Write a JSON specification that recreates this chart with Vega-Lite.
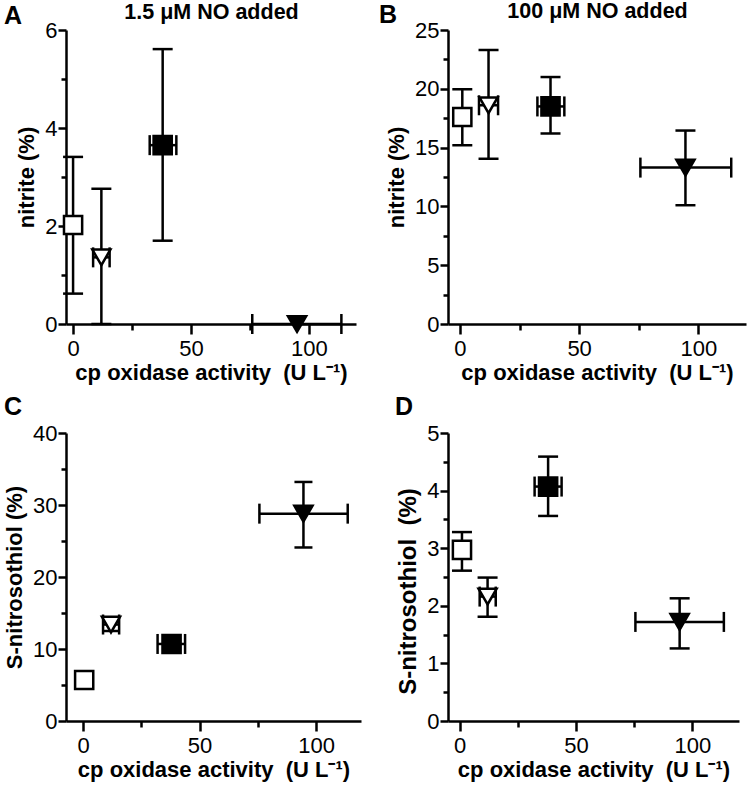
{
  "$schema": "https://vega.github.io/schema/vega-lite/v6.json",
  "background": "white",
  "padding": {"left": 3, "right": 5, "top": 0, "bottom": 4},
  "datasets": {
    "pts": [
      {"panel": "A", "group": "open_sq", "x": 0, "xlo": null, "xhi": null, "y": 2.02, "ylo": 0.62, "yhi": 3.41},
      {"panel": "A", "group": "open_tri", "x": 12, "xlo": 8.5, "xhi": 15.5, "y": 1.36, "ylo": 0, "yhi": 2.76},
      {"panel": "A", "group": "filled_sq", "x": 38, "xlo": 32.5, "xhi": 43.8, "y": 3.65, "ylo": 1.7, "yhi": 5.61},
      {"panel": "A", "group": "filled_tri", "x": 95, "xlo": 76, "xhi": 113.8, "y": 0.0, "ylo": null, "yhi": null},
      {"panel": "B", "group": "open_sq", "x": 1, "xlo": null, "xhi": null, "y": 17.6, "ylo": 15.2, "yhi": 19.96},
      {"panel": "B", "group": "open_tri", "x": 12, "xlo": 8, "xhi": 16, "y": 18.6, "ylo": 14.05, "yhi": 23.3},
      {"panel": "B", "group": "filled_sq", "x": 38, "xlo": 32.5, "xhi": 43.8, "y": 18.5, "ylo": 16.2, "yhi": 21.0},
      {"panel": "B", "group": "filled_tri", "x": 94.6, "xlo": 75.7, "xhi": 113.8, "y": 13.3, "ylo": 10.1, "yhi": 16.45},
      {"panel": "C", "group": "open_sq", "x": 0.5, "xlo": null, "xhi": null, "y": 5.7, "ylo": null, "yhi": null},
      {"panel": "C", "group": "open_tri", "x": 12, "xlo": 8.6, "xhi": 15.5, "y": 13.4, "ylo": 12.5, "yhi": 14.3},
      {"panel": "C", "group": "filled_sq", "x": 38, "xlo": 32, "xhi": 43.8, "y": 10.7, "ylo": null, "yhi": null},
      {"panel": "C", "group": "filled_tri", "x": 94.6, "xlo": 75.7, "xhi": 113.6, "y": 28.8, "ylo": 24.1, "yhi": 33.2},
      {"panel": "D", "group": "open_sq", "x": 1, "xlo": null, "xhi": null, "y": 2.97, "ylo": 2.61, "yhi": 3.28},
      {"panel": "D", "group": "open_tri", "x": 12, "xlo": 8.6, "xhi": 15.5, "y": 2.16, "ylo": 1.81, "yhi": 2.49},
      {"panel": "D", "group": "filled_sq", "x": 38, "xlo": 32.2, "xhi": 43.8, "y": 4.07, "ylo": 3.56, "yhi": 4.59},
      {"panel": "D", "group": "filled_tri", "x": 94.5, "xlo": 75.5, "xhi": 113.5, "y": 1.72, "ylo": 1.26, "yhi": 2.13}
    ]
  },
  "columns": 2,
  "spacing": {"row": 12, "column": 18},
  "concat": [
    {
      "width": 290, "height": 294,
      "data": {"name": "pts"},
      "title": {"text": "A", "dy": 30, "dx": -62},
      "transform": [{"filter": "datum.panel == 'A'"}],
      "resolve": {"axis": {"x": "independent", "y": "independent"}},
      "layer": [
        {"transform": [{"filter": "datum.ylo != null"}], "mark": {"type": "rule", "strokeWidth": 2.5, "color": "black"},
          "encoding": {
            "x": {"field": "x", "type": "quantitative", "scale": {"domain": [-3, 120], "nice": false, "zero": false},
              "axis": {"title": "cp oxidase activity\u00a0\u00a0(U L⁻¹)", "values": [0, 25, 50, 75, 100], "labelExpr": "datum.value % 50 == 0 ? datum.label : ''", "tickSize": {"condition": {"test": "datum.value % 50 != 0", "value": 6}, "value": 10}}},
            "y": {"field": "ylo", "type": "quantitative", "scale": {"domain": [0, 6], "nice": false},
              "axis": {"title": "nitrite (%)", "values": [0, 1, 2, 3, 4, 5, 6], "labelExpr": "datum.value % 2 == 0 ? datum.label : ''", "tickSize": {"condition": {"test": "datum.value % 2 != 0", "value": 5}, "value": 8}}},
            "y2": {"field": "yhi"}}},
        {"transform": [{"filter": "datum.ylo != null"}], "mark": {"type": "tick", "orient": "horizontal", "size": 20, "thickness": 2.5, "color": "black", "opacity": 1},
          "encoding": {"x": {"field": "x", "type": "quantitative", "axis": null}, "y": {"field": "ylo", "type": "quantitative", "axis": null}}},
        {"transform": [{"filter": "datum.ylo != null"}], "mark": {"type": "tick", "orient": "horizontal", "size": 20, "thickness": 2.5, "color": "black", "opacity": 1},
          "encoding": {"x": {"field": "x", "type": "quantitative", "axis": null}, "y": {"field": "yhi", "type": "quantitative", "axis": null}}},
        {"transform": [{"filter": "datum.xlo != null"}], "mark": {"type": "rule", "strokeWidth": 2.5, "color": "black"},
          "encoding": {
            "x": {"field": "xlo", "type": "quantitative",
              "axis": {"orient": "top", "title": "1.5 μM NO added", "labels": false, "ticks": false, "domain": false, "titleFontSize": 21.5, "titlePadding": 7}},
            "x2": {"field": "xhi"},
            "y": {"field": "y", "type": "quantitative", "axis": null}}},
        {"transform": [{"filter": "datum.xlo != null"}], "mark": {"type": "tick", "orient": "vertical", "size": 20, "thickness": 2.5, "color": "black", "opacity": 1},
          "encoding": {"x": {"field": "xlo", "type": "quantitative", "axis": null}, "y": {"field": "y", "type": "quantitative", "axis": null}}},
        {"transform": [{"filter": "datum.xlo != null"}], "mark": {"type": "tick", "orient": "vertical", "size": 20, "thickness": 2.5, "color": "black", "opacity": 1},
          "encoding": {"x": {"field": "xhi", "type": "quantitative", "axis": null}, "y": {"field": "y", "type": "quantitative", "axis": null}}},
        {"mark": {"type": "point", "filled": true, "stroke": "black", "strokeWidth": 2.5, "size": 330, "opacity": 1},
          "encoding": {
            "x": {"field": "x", "type": "quantitative", "axis": null},
            "y": {"field": "y", "type": "quantitative", "axis": null},
            "shape": {"field": "group", "type": "nominal", "scale": {"domain": ["open_sq", "open_tri", "filled_sq", "filled_tri"], "range": ["square", "triangle-down", "square", "triangle-down"]}, "legend": null},
            "fill": {"field": "group", "type": "nominal", "scale": {"domain": ["open_sq", "open_tri", "filled_sq", "filled_tri"], "range": ["white", "white", "black", "black"]}, "legend": null}}}
      ]
    },
    {
      "width": 298, "height": 294,
      "data": {"name": "pts"},
      "title": {"text": "B", "dy": 30, "dx": -69},
      "transform": [{"filter": "datum.panel == 'B'"}],
      "resolve": {"axis": {"x": "independent", "y": "independent"}},
      "layer": [
        {"transform": [{"filter": "datum.ylo != null"}], "mark": {"type": "rule", "strokeWidth": 2.5, "color": "black"},
          "encoding": {
            "x": {"field": "x", "type": "quantitative", "scale": {"domain": [-5, 120], "nice": false, "zero": false},
              "axis": {"title": "cp oxidase activity\u00a0\u00a0(U L⁻¹)", "values": [0, 25, 50, 75, 100], "labelExpr": "datum.value % 50 == 0 ? datum.label : ''", "tickSize": {"condition": {"test": "datum.value % 50 != 0", "value": 6}, "value": 10}}},
            "y": {"field": "ylo", "type": "quantitative", "scale": {"domain": [0, 25], "nice": false},
              "axis": {"title": "nitrite (%)", "values": [0, 2.5, 5, 7.5, 10, 12.5, 15, 17.5, 20, 22.5, 25], "labelExpr": "datum.value % 5 == 0 ? format(datum.value, 'd') : ''", "tickSize": {"condition": {"test": "datum.value % 5 != 0", "value": 5}, "value": 8}}},
            "y2": {"field": "yhi"}}},
        {"transform": [{"filter": "datum.ylo != null"}], "mark": {"type": "tick", "orient": "horizontal", "size": 20, "thickness": 2.5, "color": "black", "opacity": 1},
          "encoding": {"x": {"field": "x", "type": "quantitative", "axis": null}, "y": {"field": "ylo", "type": "quantitative", "axis": null}}},
        {"transform": [{"filter": "datum.ylo != null"}], "mark": {"type": "tick", "orient": "horizontal", "size": 20, "thickness": 2.5, "color": "black", "opacity": 1},
          "encoding": {"x": {"field": "x", "type": "quantitative", "axis": null}, "y": {"field": "yhi", "type": "quantitative", "axis": null}}},
        {"transform": [{"filter": "datum.xlo != null"}], "mark": {"type": "rule", "strokeWidth": 2.5, "color": "black"},
          "encoding": {
            "x": {"field": "xlo", "type": "quantitative",
              "axis": {"orient": "top", "title": "100 μM NO added", "labels": false, "ticks": false, "domain": false, "titleFontSize": 21.5, "titlePadding": 8}},
            "x2": {"field": "xhi"},
            "y": {"field": "y", "type": "quantitative", "axis": null}}},
        {"transform": [{"filter": "datum.xlo != null"}], "mark": {"type": "tick", "orient": "vertical", "size": 20, "thickness": 2.5, "color": "black", "opacity": 1},
          "encoding": {"x": {"field": "xlo", "type": "quantitative", "axis": null}, "y": {"field": "y", "type": "quantitative", "axis": null}}},
        {"transform": [{"filter": "datum.xlo != null"}], "mark": {"type": "tick", "orient": "vertical", "size": 20, "thickness": 2.5, "color": "black", "opacity": 1},
          "encoding": {"x": {"field": "xhi", "type": "quantitative", "axis": null}, "y": {"field": "y", "type": "quantitative", "axis": null}}},
        {"mark": {"type": "point", "filled": true, "stroke": "black", "strokeWidth": 2.5, "size": 330, "opacity": 1},
          "encoding": {
            "x": {"field": "x", "type": "quantitative", "axis": null},
            "y": {"field": "y", "type": "quantitative", "axis": null},
            "shape": {"field": "group", "type": "nominal", "scale": {"domain": ["open_sq", "open_tri", "filled_sq", "filled_tri"], "range": ["square", "triangle-down", "square", "triangle-down"]}, "legend": null},
            "fill": {"field": "group", "type": "nominal", "scale": {"domain": ["open_sq", "open_tri", "filled_sq", "filled_tri"], "range": ["white", "white", "black", "black"]}, "legend": null}}}
      ]
    },
    {
      "width": 295, "height": 288,
      "data": {"name": "pts"},
      "title": {"text": "C", "dx": -62},
      "transform": [{"filter": "datum.panel == 'C'"}],
      "resolve": {"axis": {"x": "independent", "y": "independent"}},
      "layer": [
        {"transform": [{"filter": "datum.ylo != null"}], "mark": {"type": "rule", "strokeWidth": 2.5, "color": "black"},
          "encoding": {
            "x": {"field": "x", "type": "quantitative", "scale": {"domain": [-7.3, 119.3], "nice": false, "zero": false},
              "axis": {"title": "cp oxidase activity\u00a0\u00a0(U L⁻¹)", "values": [0, 25, 50, 75, 100], "labelExpr": "datum.value % 50 == 0 ? datum.label : ''", "tickSize": {"condition": {"test": "datum.value % 50 != 0", "value": 6}, "value": 10}}},
            "y": {"field": "ylo", "type": "quantitative", "scale": {"domain": [0, 40], "nice": false},
              "axis": {"title": "S-nitrosothiol (%)", "values": [0, 5, 10, 15, 20, 25, 30, 35, 40], "labelExpr": "datum.value % 10 == 0 ? datum.label : ''", "tickSize": {"condition": {"test": "datum.value % 10 != 0", "value": 5}, "value": 8}}},
            "y2": {"field": "yhi"}}},
        {"transform": [{"filter": "datum.ylo != null"}], "mark": {"type": "tick", "orient": "horizontal", "size": 18, "thickness": 2.5, "color": "black", "opacity": 1},
          "encoding": {"x": {"field": "x", "type": "quantitative", "axis": null}, "y": {"field": "ylo", "type": "quantitative", "axis": null}}},
        {"transform": [{"filter": "datum.ylo != null"}], "mark": {"type": "tick", "orient": "horizontal", "size": 18, "thickness": 2.5, "color": "black", "opacity": 1},
          "encoding": {"x": {"field": "x", "type": "quantitative", "axis": null}, "y": {"field": "yhi", "type": "quantitative", "axis": null}}},
        {"transform": [{"filter": "datum.xlo != null"}], "mark": {"type": "rule", "strokeWidth": 2.5, "color": "black"},
          "encoding": {"x": {"field": "xlo", "type": "quantitative", "axis": null}, "x2": {"field": "xhi"}, "y": {"field": "y", "type": "quantitative", "axis": null}}},
        {"transform": [{"filter": "datum.xlo != null"}], "mark": {"type": "tick", "orient": "vertical", "size": 20, "thickness": 2.5, "color": "black", "opacity": 1},
          "encoding": {"x": {"field": "xlo", "type": "quantitative", "axis": null}, "y": {"field": "y", "type": "quantitative", "axis": null}}},
        {"transform": [{"filter": "datum.xlo != null"}], "mark": {"type": "tick", "orient": "vertical", "size": 20, "thickness": 2.5, "color": "black", "opacity": 1},
          "encoding": {"x": {"field": "xhi", "type": "quantitative", "axis": null}, "y": {"field": "y", "type": "quantitative", "axis": null}}},
        {"mark": {"type": "point", "filled": true, "stroke": "black", "strokeWidth": 2.5, "size": 330, "opacity": 1},
          "encoding": {
            "x": {"field": "x", "type": "quantitative", "axis": null},
            "y": {"field": "y", "type": "quantitative", "axis": null},
            "shape": {"field": "group", "type": "nominal", "scale": {"domain": ["open_sq", "open_tri", "filled_sq", "filled_tri"], "range": ["square", "triangle-down", "square", "triangle-down"]}, "legend": null},
            "fill": {"field": "group", "type": "nominal", "scale": {"domain": ["open_sq", "open_tri", "filled_sq", "filled_tri"], "range": ["white", "white", "black", "black"]}, "legend": null}}}
      ]
    },
    {
      "width": 291, "height": 288,
      "data": {"name": "pts"},
      "title": {"text": "D", "dx": -53},
      "transform": [{"filter": "datum.panel == 'D'"}],
      "resolve": {"axis": {"x": "independent", "y": "independent"}},
      "layer": [
        {"transform": [{"filter": "datum.ylo != null"}], "mark": {"type": "rule", "strokeWidth": 2.5, "color": "black"},
          "encoding": {
            "x": {"field": "x", "type": "quantitative", "scale": {"domain": [-5, 120], "nice": false, "zero": false},
              "axis": {"title": "cp oxidase activity\u00a0\u00a0(U L⁻¹)", "values": [0, 25, 50, 75, 100], "labelExpr": "datum.value % 50 == 0 ? datum.label : ''", "tickSize": {"condition": {"test": "datum.value % 50 != 0", "value": 6}, "value": 10}}},
            "y": {"field": "ylo", "type": "quantitative", "scale": {"domain": [0, 5], "nice": false},
              "axis": {"title": "S-nitrosothiol\u00a0\u00a0(%)", "titleFontSize": 24, "titleY": 158, "values": [0, 0.5, 1, 1.5, 2, 2.5, 3, 3.5, 4, 4.5, 5], "labelExpr": "datum.value % 1 == 0 ? format(datum.value, 'd') : ''", "tickSize": {"condition": {"test": "datum.value % 1 != 0", "value": 5}, "value": 8}}},
            "y2": {"field": "yhi"}}},
        {"transform": [{"filter": "datum.ylo != null"}], "mark": {"type": "tick", "orient": "horizontal", "size": 20, "thickness": 2.5, "color": "black", "opacity": 1},
          "encoding": {"x": {"field": "x", "type": "quantitative", "axis": null}, "y": {"field": "ylo", "type": "quantitative", "axis": null}}},
        {"transform": [{"filter": "datum.ylo != null"}], "mark": {"type": "tick", "orient": "horizontal", "size": 20, "thickness": 2.5, "color": "black", "opacity": 1},
          "encoding": {"x": {"field": "x", "type": "quantitative", "axis": null}, "y": {"field": "yhi", "type": "quantitative", "axis": null}}},
        {"transform": [{"filter": "datum.xlo != null"}], "mark": {"type": "rule", "strokeWidth": 2.5, "color": "black"},
          "encoding": {"x": {"field": "xlo", "type": "quantitative", "axis": null}, "x2": {"field": "xhi"}, "y": {"field": "y", "type": "quantitative", "axis": null}}},
        {"transform": [{"filter": "datum.xlo != null"}], "mark": {"type": "tick", "orient": "vertical", "size": 20, "thickness": 2.5, "color": "black", "opacity": 1},
          "encoding": {"x": {"field": "xlo", "type": "quantitative", "axis": null}, "y": {"field": "y", "type": "quantitative", "axis": null}}},
        {"transform": [{"filter": "datum.xlo != null"}], "mark": {"type": "tick", "orient": "vertical", "size": 20, "thickness": 2.5, "color": "black", "opacity": 1},
          "encoding": {"x": {"field": "xhi", "type": "quantitative", "axis": null}, "y": {"field": "y", "type": "quantitative", "axis": null}}},
        {"mark": {"type": "point", "filled": true, "stroke": "black", "strokeWidth": 2.5, "size": 330, "opacity": 1},
          "encoding": {
            "x": {"field": "x", "type": "quantitative", "axis": null},
            "y": {"field": "y", "type": "quantitative", "axis": null},
            "shape": {"field": "group", "type": "nominal", "scale": {"domain": ["open_sq", "open_tri", "filled_sq", "filled_tri"], "range": ["square", "triangle-down", "square", "triangle-down"]}, "legend": null},
            "fill": {"field": "group", "type": "nominal", "scale": {"domain": ["open_sq", "open_tri", "filled_sq", "filled_tri"], "range": ["white", "white", "black", "black"]}, "legend": null}}}
      ]
    }
  ],
  "config": {
    "font": "Liberation Sans",
    "view": {"stroke": null},
    "axis": {
      "grid": false,
      "domainColor": "black", "domainWidth": 2.5,
      "tickColor": "black", "tickWidth": 2.5,
      "labelColor": "black", "labelFont": "Liberation Sans", "labelFontSize": 22, "labelPadding": 1,
      "titleColor": "black", "titleFont": "Liberation Sans", "titleFontSize": 22, "titleFontWeight": "bold",
      "labelOverlap": false, "labelFlush": false
    },
    "axisY": {"titlePadding": 6},
    "axisX": {"titlePadding": 3, "labelPadding": 4},
    "title": {"font": "Liberation Sans", "fontSize": 25, "fontWeight": "bold", "anchor": "start", "frame": "group", "color": "black", "offset": 2}
  }
}
